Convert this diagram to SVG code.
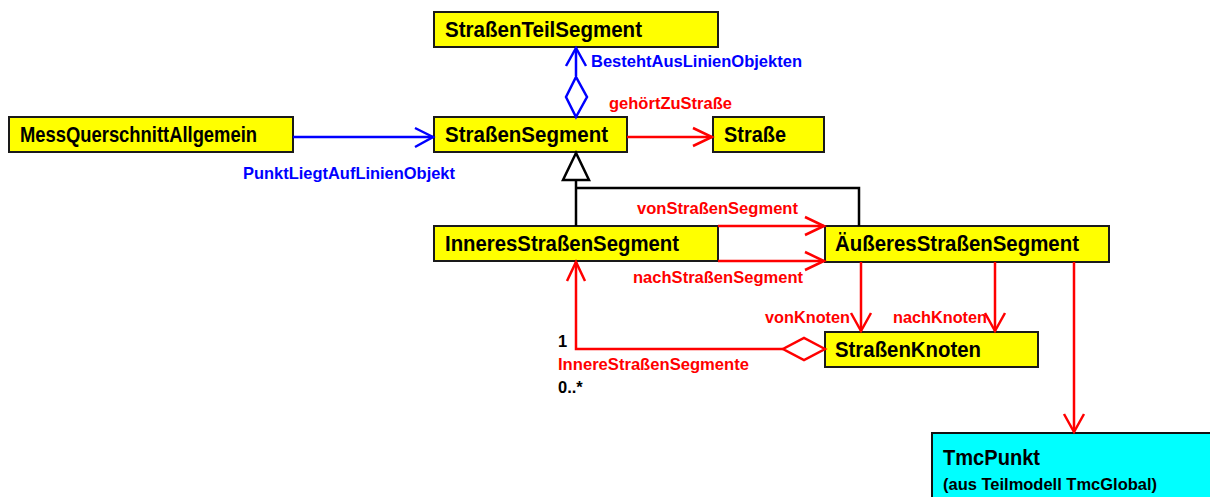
<svg xmlns="http://www.w3.org/2000/svg" width="1210" height="497" viewBox="0 0 1210 497">
  <style>
    .cls { fill: #ffff00; stroke: #1a1a1a; stroke-width: 2; }
    .ext { fill: #00ffff; stroke: #111; stroke-width: 2; }
    .name { font-family: "Liberation Sans", Arial, sans-serif; font-weight: bold; font-size: 21.5px; fill: #000; }
    .sub { font-family: "Liberation Sans", Arial, sans-serif; font-weight: bold; font-size: 16px; fill: #000; }
    .lbl { font-family: "Liberation Sans", Arial, sans-serif; font-weight: bold; font-size: 16.5px; }
    .blue { fill: #0000ff; }
    .red { fill: #ff0000; }
    .mult { fill: #000; }
    .cb { fill: none; stroke: #0000ff; stroke-width: 2.5; }
    .cr { fill: none; stroke: #ff0000; stroke-width: 2.5; }
    .ck { fill: none; stroke: #000; stroke-width: 2.5; }
    .dia { fill: #fff; }
  </style>

  <!-- classes -->
  <g id="strassenTeilSegment">
    <rect class="cls" x="434" y="12" width="284" height="35"/>
    <text class="name" x="445" y="37" textLength="197" lengthAdjust="spacingAndGlyphs">StraßenTeilSegment</text>
  </g>
  <g id="messQuerschnittAllgemein">
    <rect class="cls" x="9" y="117" width="284" height="35"/>
    <text class="name" x="20" y="142" textLength="237" lengthAdjust="spacingAndGlyphs">MessQuerschnittAllgemein</text>
  </g>
  <g id="strassenSegment">
    <rect class="cls" x="434" y="117" width="193" height="35"/>
    <text class="name" x="445" y="142" textLength="163" lengthAdjust="spacingAndGlyphs">StraßenSegment</text>
  </g>
  <g id="strasse">
    <rect class="cls" x="713" y="117" width="111" height="35"/>
    <text class="name" x="724" y="142" textLength="62" lengthAdjust="spacingAndGlyphs">Straße</text>
  </g>
  <g id="inneresStrassenSegment">
    <rect class="cls" x="434" y="226" width="284" height="35"/>
    <text class="name" x="445" y="251" textLength="234" lengthAdjust="spacingAndGlyphs">InneresStraßenSegment</text>
  </g>
  <g id="aeusseresStrassenSegment">
    <rect class="cls" x="825" y="226" width="284" height="36"/>
    <text class="name" x="835" y="251" textLength="244" lengthAdjust="spacingAndGlyphs">ÄußeresStraßenSegment</text>
  </g>
  <g id="strassenKnoten">
    <rect class="cls" x="825" y="332" width="213" height="35"/>
    <text class="name" x="835" y="357" textLength="146" lengthAdjust="spacingAndGlyphs">StraßenKnoten</text>
  </g>
  <g id="tmcPunkt">
    <rect class="ext" x="932" y="433" width="290" height="80"/>
    <text class="name" x="943" y="465" textLength="97" lengthAdjust="spacingAndGlyphs">TmcPunkt</text>
    <text class="sub" x="943" y="490" textLength="214" lengthAdjust="spacingAndGlyphs">(aus Teilmodell TmcGlobal)</text>
  </g>

  <!-- connectors -->
  <g id="connectors">
    <!-- aggregation StraßenSegment -> StraßenTeilSegment -->
    <line class="cb" x1="576" y1="76" x2="576" y2="48"/>
    <polyline class="cb" points="566,66 576,48 586,66"/>
    <polygon class="cb dia" points="576,117 587,97 576,77 566,97"/>

    <!-- MessQuerschnittAllgemein -> StraßenSegment -->
    <line class="cb" x1="293" y1="137" x2="433" y2="137"/>
    <polyline class="cb" points="415,128 433,137 415,147"/>

    <!-- StraßenSegment -> Straße -->
    <line class="cr" x1="627" y1="137" x2="712" y2="137"/>
    <polyline class="cr" points="693,128 712,137 693,146"/>

    <!-- generalisation -->
    <polygon class="ck" points="576,153 563,180 589,180" style="fill:#fff"/>
    <line class="ck" x1="576" y1="180" x2="576" y2="226"/>
    <polyline class="ck" points="576,188 859,188 859,226"/>

    <!-- vonStraßenSegment / nachStraßenSegment -->
    <line class="cr" x1="718" y1="226" x2="824" y2="226"/>
    <polyline class="cr" points="805,217 824,226 805,235"/>
    <line class="cr" x1="718" y1="261" x2="824" y2="261"/>
    <polyline class="cr" points="805,252 824,261 805,270"/>

    <!-- vonKnoten / nachKnoten -->
    <line class="cr" x1="861" y1="262" x2="861" y2="331"/>
    <polyline class="cr" points="851,313 861,331 871,313"/>
    <line class="cr" x1="995" y1="262" x2="995" y2="331"/>
    <polyline class="cr" points="985,313 995,331 1005,313"/>

    <!-- ÄußeresStraßenSegment -> TmcPunkt -->
    <line class="cr" x1="1074" y1="262" x2="1074" y2="432"/>
    <polyline class="cr" points="1064,414 1074,432 1084,414"/>

    <!-- InnereStraßenSegmente aggregation -->
    <polyline class="cr" points="783,349 576,349 576,262"/>
    <polyline class="cr" points="567,281 576,262 585,281"/>
    <polygon class="cr dia" points="825,349 804,338 783,349 804,360"/>
  </g>

  <!-- connector labels -->
  <g id="labels">
    <text class="lbl blue" x="591" y="67" textLength="211" lengthAdjust="spacingAndGlyphs">BestehtAusLinienObjekten</text>
    <text class="lbl red" x="609" y="109" textLength="123" lengthAdjust="spacingAndGlyphs">gehörtZuStraße</text>
    <text class="lbl blue" x="243" y="179" textLength="212" lengthAdjust="spacingAndGlyphs">PunktLiegtAufLinienObjekt</text>
    <text class="lbl red" x="637" y="214" textLength="161" lengthAdjust="spacingAndGlyphs">vonStraßenSegment</text>
    <text class="lbl red" x="633" y="283" textLength="170" lengthAdjust="spacingAndGlyphs">nachStraßenSegment</text>
    <text class="lbl red" x="765" y="323" textLength="85" lengthAdjust="spacingAndGlyphs">vonKnoten</text>
    <text class="lbl red" x="893" y="323" textLength="94" lengthAdjust="spacingAndGlyphs">nachKnoten</text>
    <text class="lbl mult" x="558" y="347">1</text>
    <text class="lbl red" x="558" y="370" textLength="191" lengthAdjust="spacingAndGlyphs">InnereStraßenSegmente</text>
    <text class="lbl mult" x="558" y="393">0..*</text>
  </g>
</svg>
